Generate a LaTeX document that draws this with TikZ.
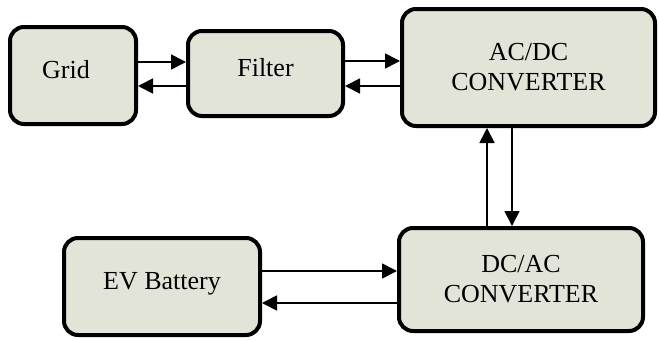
\documentclass[tikz,border=0pt]{standalone}
\usepackage{fontspec}
\setmainfont{Liberation Serif}
\usetikzlibrary{arrows.meta,calc}
\definecolor{boxfill}{RGB}{227,228,216}
\tikzset{
  blk/.style={draw=black, line width=4pt, fill=boxfill, rounded corners=14pt,
    align=center, font=\fontsize{26}{30}\selectfont, inner sep=0pt},
  onel/.style={text depth=12pt},
  flow/.style={line width=1.7pt, -{Triangle[length=15pt,width=15pt]}}
}
\begin{document}
\begin{tikzpicture}[x=1pt,y=-1pt]
  \useasboundingbox (0,0) rectangle (659,340);
  % blocks
  \node[blk, onel, minimum width=126pt, minimum height=97pt] (grid) at (73,75.5) {Grid\hspace{14pt}};
  \node[blk, onel, minimum width=155pt, minimum height=85pt] (filter) at (265.5,73.5) {Filter};
  \node[blk, minimum width=253pt, minimum height=117pt] (acdc) at (528.5,67.5) {AC/DC\\CONVERTER};
  \node[blk, minimum width=244pt, minimum height=103pt] (dcac) at (521,279.5) {DC/AC\\CONVERTER};
  \node[blk, onel, minimum width=196pt, minimum height=97pt] (ev) at (162,286.5) {EV Battery};
  % power flow between blocks
  \draw[flow] (grid.east |- 0,62) -- (filter.west |- 0,62);
  \draw[flow] (filter.west |- 0,86) -- (grid.east |- 0,86);
  \draw[flow] (filter.east |- 0,61) -- (acdc.west |- 0,61);
  \draw[flow] (acdc.west |- 0,86) -- (filter.east |- 0,86);
  \draw[flow] (dcac.north -| 487,0) -- (acdc.south -| 487,0);
  \draw[flow] (acdc.south -| 512,0) -- (dcac.north -| 512,0);
  \draw[flow] (ev.east |- 0,271) -- (dcac.west |- 0,271);
  \draw[flow] (dcac.west |- 0,303) -- (ev.east |- 0,303);
\end{tikzpicture}
\end{document}
